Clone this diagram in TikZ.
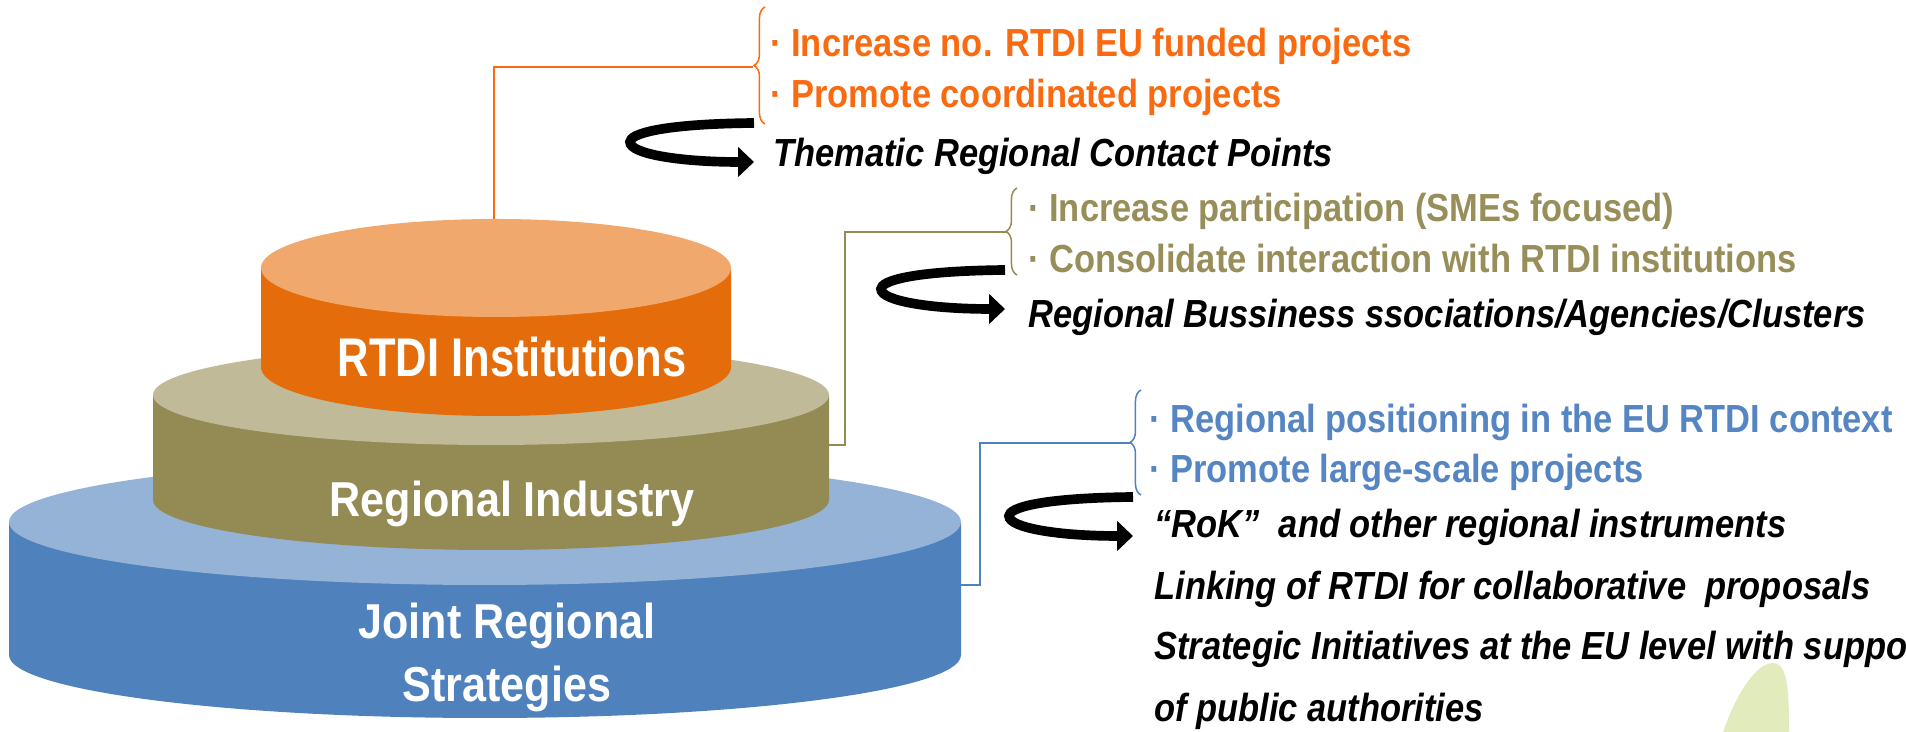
\documentclass[tikz,border=0pt]{standalone}
\usepackage{fontspec}
\setmainfont{Liberation Sans}[FakeStretch=0.88]
\usetikzlibrary{arrows.meta,decorations.pathreplacing}
\definecolor{rtdiorange}{HTML}{E46C0A}
\definecolor{rtditop}{HTML}{F0A86D}
\definecolor{industryolive}{HTML}{948A54}
\definecolor{industrytop}{HTML}{C0BA98}
\definecolor{jointblue}{HTML}{4F81BD}
\definecolor{jointtop}{HTML}{95B3D7}
\definecolor{orangetext}{HTML}{FA6A10}
\definecolor{olivetext}{HTML}{988E5A}
\definecolor{bluetext}{HTML}{5585C2}
\definecolor{leafgreen}{HTML}{E2EBBC}
% side colour, top colour, centre x, top y, height, x radius, y radius
\def\tier[#1][#2](#3,#4)(#5:#6:#7){%
	\fill[#1] (#3-#6,#4) -- (#3-#6,#4-#5) arc[start angle=180,end angle=360,x radius=#6,y radius=#7] -- (#3+#6,#4) -- cycle;
	\fill[#2] (#3,#4) ellipse[x radius=#6,y radius=#7];}
\tikzset{
	linkline/.style={line width=1.1pt},
	bracket/.style={decorate,decoration={brace,amplitude=6.3pt},line width=0.85pt},
	point/.style={anchor=base west,inner sep=0pt,font=\fontsize{22.3}{26}\selectfont\bfseries},
	note/.style={point,font=\fontsize{22.3}{26}\selectfont\bfseries\itshape},
	tierlabel/.style={anchor=base,inner sep=0pt,text=white,font=\fontsize{27.9}{36.4}\selectfont\bfseries},
	curlline/.style={line width=5.5pt,-{Triangle[length=9pt,width=16.5pt]}},
	pics/curl/.style={code={\draw[curlline] (0,0) .. controls (-94,-1) and (-124,-11) .. (-124,-19) .. controls (-124,-31) and (-74,-39) .. (0,-39);}}
}

\begin{document}
\begin{tikzpicture}[x=0.02cm,y=0.02cm]
	%%%%% START %%%%%
	\useasboundingbox (0,0) rectangle (1906,732);
	\clip (0,0) rectangle (1906,732);
	
	\fill[leafgreen] (1723,0) .. controls (1735,35) and (1755,69) .. (1773,69) .. controls (1787,69) and (1789,45) .. (1789,0) -- cycle;
	
	\tier[jointblue][jointtop](485,210)(133:476:63)
	\tier[industryolive][industrytop](491,337)(105:338:50)
	\tier[rtdiorange][rtditop](496,464)(99:235:49)
	
	\node[tierlabel,font=\fontsize{31}{36}\selectfont\bfseries\addfontfeature{FakeStretch=0.8}] (rtdi) at (512,355) {RTDI Institutions};
	\node[tierlabel] (industry) at (512,215) {Regional Industry};
	\node[tierlabel,align=center] (joint) at (507,30) {Joint Regional\\Strategies};
	
	\coordinate (rtdiTop) at (494,513);
	\coordinate (rtdiTip) at (753,665);
	\coordinate (industryEdge) at (829,287);
	\coordinate (industryTip) at (1007,500);
	\coordinate (jointEdge) at (961,147);
	\coordinate (jointTip) at (1130,289);
	
	\draw[linkline,draw=orangetext] (rtdiTop) |- (rtdiTip);
	\draw[linkline,draw=industryolive] (industryEdge) -- ++(16,0) |- (industryTip);
	\draw[linkline,draw=jointblue] (jointEdge) -- ++(19,0) |- (jointTip);
	
	\draw[bracket,draw=orangetext] (765,608) -- (765,725);
	\draw[bracket,draw=industryolive] (1017,457) -- (1017,544);
	\draw[bracket,draw=jointblue] (1141,237) -- (1141,342);
	
	\pic at (754,609) {curl};
	\pic at (1005,462) {curl};
	\pic at (1133,235) {curl};
	
	\node[point,text=orangetext] (fund) at (770,675) {· Increase no. RTDI EU funded projects};
	\node[point,text=orangetext] (coord) at (770,624) {· Promote coordinated projects};
	\node[note] (contact) at (773,565) {Thematic Regional Contact Points};
	
	\node[point,text=olivetext] (partic) at (1028,510) {· Increase participation (SMEs focused)};
	\node[point,text=olivetext] (consol) at (1028,459) {· Consolidate interaction with RTDI institutions};
	\node[note] (assoc) at (1028,404) {Regional Bussiness ssociations/Agencies/Clusters};
	
	\node[point,text=bluetext] (posit) at (1149,299) {· Regional positioning in the EU RTDI context};
	\node[point,text=bluetext] (large) at (1149,249) {· Promote large-scale projects};
	\node[note] (rok) at (1154,194) {“RoK”\ \ and other regional instruments};
	\node[note] (link) at (1154,132) {Linking of RTDI for collaborative\ \ proposals};
	\node[note] (strat) at (1154,72) {Strategic Initiatives at the EU level with support};
	\node[note] (public) at (1154,10) {of public authorities};
	%%%%% END %%%%%
\end{tikzpicture}
\end{document}
